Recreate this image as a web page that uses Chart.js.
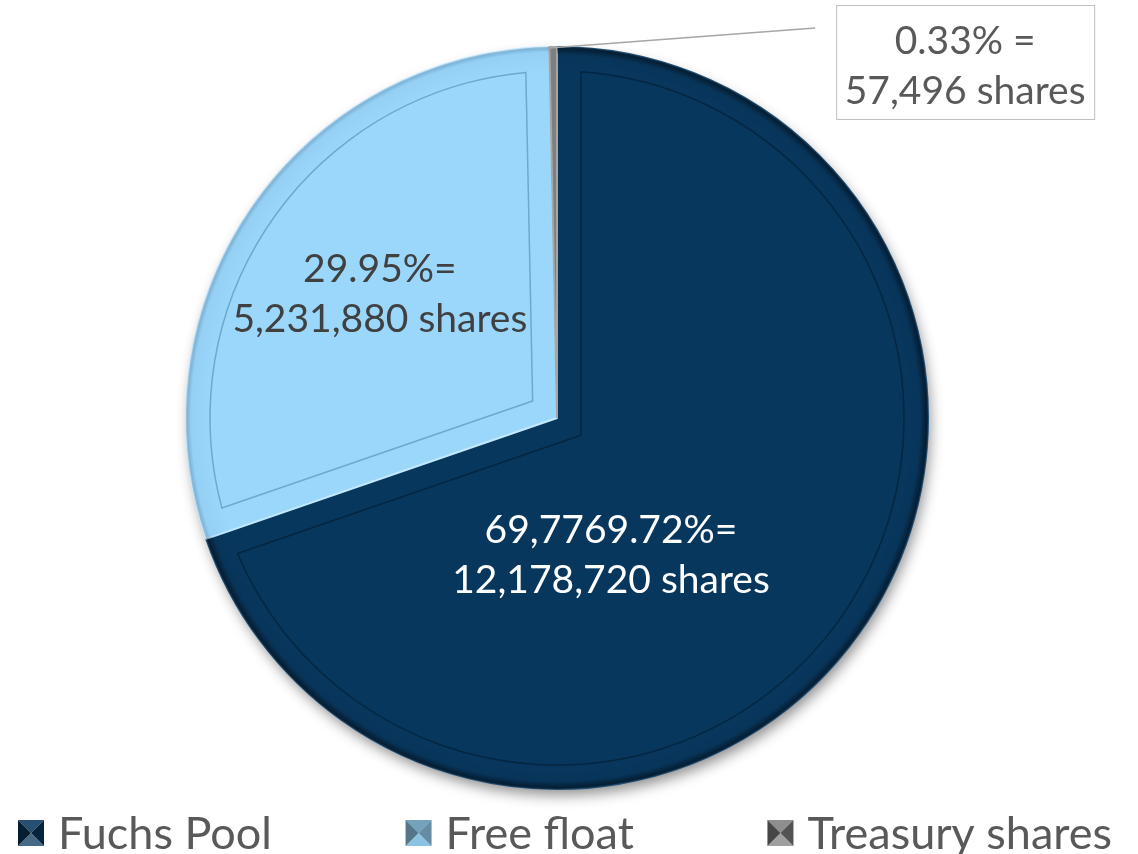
<!DOCTYPE html>
<html>
<head>
<meta charset="utf-8">
<script src="https://cdn.jsdelivr.net/npm/chart.js@4.4.1/dist/chart.umd.min.js"></script>
<style>
  html, body { margin: 0; padding: 0; background: #ffffff; }
  #wrap { width: 1138px; height: 854px; }
</style>
</head>
<body>
<div id="wrap"><canvas id="shareChart" width="1138" height="854"></canvas></div>
<script>
// shareholder structure
const categories = ['Fuchs Pool', 'Free float', 'Treasury shares'];
const sharePercent = [69.72, 29.95, 0.33];
const shareCount = [12178720, 5231880, 57496];
const labelLines = [
    ['69,7769.72%=', '12,178,720 shares'],
    ['29.95%=', '5,231,880 shares'],
    ['0.33% =', '57,496 shares']
];

const sliceColors = ['#08375e', '#9bd7fb', '#7f7f7f'];
const sliceBorders = ['#1d4f78', '#c4e9ff', '#a6a6a6'];
const labelColors = ['#ffffff', '#404040', '#595959'];
const FONT = 'Lato, "Liberation Sans", sans-serif';

function shade(hex, amt) {
    const n = parseInt(hex.slice(1), 16);
    let r = n >> 16, g = (n >> 8) & 255, b = n & 255;
    const f = v => Math.round(amt < 0 ? v * (1 + amt) : v + (255 - v) * amt);
    return 'rgb(' + f(r) + ',' + f(g) + ',' + f(b) + ')';
}

// soft shadow under the pie
const pieShadow = {
    id: 'pieShadow',
    beforeDatasetsDraw(chart) {
        const el = chart.getDatasetMeta(0).data[0];
        if (!el) return;
        const c = chart.ctx;
        c.save();
        c.shadowColor = 'rgba(0,0,0,0.45)';
        c.shadowBlur = 14;
        c.shadowOffsetX = 3;
        c.shadowOffsetY = 7;
        c.fillStyle = sliceColors[0];
        c.beginPath();
        c.arc(el.x, el.y, el.outerRadius - 1, 0, Math.PI * 2);
        c.fill();
        c.restore();
    }
};

function insetPath(c, el, d) {
    const p = el.getProps(['x', 'y', 'startAngle', 'endAngle', 'outerRadius'], true);
    const half = (p.endAngle - p.startAngle) / 2;
    const mid = p.startAngle + half;
    const vd = d / Math.sin(half);
    const r = p.outerRadius - d;
    const da = Math.asin(d / r);
    c.beginPath();
    c.moveTo(p.x + Math.cos(mid) * vd, p.y + Math.sin(mid) * vd);
    c.arc(p.x, p.y, r, p.startAngle + da, p.endAngle - da);
    c.closePath();
}

// bevel look, value labels and the callout box
const sliceLabels = {
    id: 'sliceLabels',
    afterDatasetsDraw(chart) {
        const c = chart.ctx;
        const arcs = chart.getDatasetMeta(0).data;

        // rim shading + inner bevel line
        arcs.forEach((el, i) => {
            if (i > 1) return;
            const p = el.getProps(['x', 'y', 'startAngle', 'endAngle', 'outerRadius'], true);
            c.save();
            const g = c.createRadialGradient(p.x, p.y, p.outerRadius - 26, p.x, p.y, p.outerRadius);
            if (i === 0) {
                g.addColorStop(0, 'rgba(0,0,0,0)');
                g.addColorStop(0.7, 'rgba(0,0,0,0.05)');
                g.addColorStop(1, 'rgba(0,0,0,0.55)');
            } else {
                g.addColorStop(0, 'rgba(0,40,80,0)');
                g.addColorStop(0.8, 'rgba(0,40,80,0.04)');
                g.addColorStop(1, 'rgba(0,40,80,0.25)');
            }
            c.fillStyle = g;
            c.beginPath();
            c.arc(p.x, p.y, p.outerRadius, p.startAngle, p.endAngle);
            c.arc(p.x, p.y, p.outerRadius - 26, p.endAngle, p.startAngle, true);
            c.closePath();
            c.fill();

            insetPath(c, el, 24);
            c.lineWidth = 1.5;
            c.strokeStyle = i === 0 ? '#042640' : '#6ea9cb';
            c.stroke();
            c.restore();
        });

        // text inside slices
        const offsets = [[-97, 30], [-25, -17]];
        c.save();
        c.font = '39px ' + FONT;
        c.textAlign = 'center';
        c.textBaseline = 'middle';
        [0, 1].forEach(i => {
            const pt = arcs[i].getCenterPoint();
            const cx = pt.x + offsets[i][0];
            const cy = pt.y + offsets[i][1];
            c.fillStyle = labelColors[i];
            c.fillText(labelLines[i][0], cx, cy - 25);
            c.fillText(labelLines[i][1], cx, cy + 25);
        });

        // callout for the thin slice
        const t = arcs[2].getProps(['x', 'y', 'startAngle', 'endAngle', 'outerRadius'], true);
        const ang = (t.startAngle + t.endAngle) / 2;
        const tipX = t.x + Math.cos(ang) * t.outerRadius;
        const tipY = t.y + Math.sin(ang) * t.outerRadius;
        c.strokeStyle = '#a6a6a6';
        c.lineWidth = 1.5;
        c.beginPath();
        c.moveTo(tipX - 4, tipY + 1);
        c.lineTo(tipX + 262, tipY - 19);
        c.stroke();
        const bx = tipX + 283, by = tipY - 42;
        c.fillStyle = '#ffffff';
        c.fillRect(bx, by, 258, 114);
        c.strokeStyle = '#bfbfbf';
        c.lineWidth = 1;
        c.strokeRect(bx + 0.5, by + 0.5, 258, 114);
        c.fillStyle = labelColors[2];
        c.fillText(labelLines[2][0], bx + 129, by + 36);
        c.fillText(labelLines[2][1], bx + 129, by + 86);
        c.restore();
    }
};

// spread-out legend along the bottom edge
const bottomLegend = {
    id: 'bottomLegend',
    afterDraw(chart) {
        const c = chart.ctx;
        const box = 26, gapText = 14, left = 18, right = chart.width - 26;
        const cy = chart.height - 21;
        c.save();
        c.font = '45px ' + FONT;
        c.textBaseline = 'middle';
        const widths = categories.map(t => box + gapText + c.measureText(t).width);
        const total = widths.reduce((a, b) => a + b, 0);
        const gap = (right - left - total) / (categories.length - 1);
        let x = left;
        categories.forEach((name, i) => {
            const base = sliceColors[i];
            const y0 = cy - box / 2, mx = x + box / 2;
            const tri = (pts, col) => {
                c.fillStyle = col;
                c.beginPath();
                c.moveTo(pts[0], pts[1]);
                c.lineTo(pts[2], pts[3]);
                c.lineTo(pts[4], pts[5]);
                c.closePath();
                c.fill();
            };
            tri([x, y0, x + box, y0, mx, cy], shade(base, i === 1 ? -0.25 : 0.12));
            tri([x, y0 + box, x + box, y0 + box, mx, cy], shade(base, i === 1 ? -0.1 : 0.25));
            tri([x, y0, x, y0 + box, mx, cy], shade(base, -0.45));
            tri([x + box, y0, x + box, y0 + box, mx, cy], shade(base, -0.35));
            c.fillStyle = '#595959';
            c.fillText(name, x + box + gapText, cy + 1);
            x += widths[i] + gap;
        });
        c.restore();
    }
};

const ctx = document.getElementById('shareChart').getContext('2d');
const shareChart = new Chart(ctx, {
    type: 'pie',
    data: {
        labels: categories,
        datasets: [{
            data: sharePercent,
            backgroundColor: sliceColors,
            borderColor: sliceBorders,
            borderWidth: 2
        }]
    },
    options: {
        responsive: false,
        animation: false,
        layout: {
            padding: { top: 46, bottom: 64, left: 0, right: 24 }
        },
        plugins: {
            legend: { display: false },
            tooltip: { enabled: false }
        }
    },
    plugins: [pieShadow, sliceLabels, bottomLegend]
});
</script>
</body>
</html>
